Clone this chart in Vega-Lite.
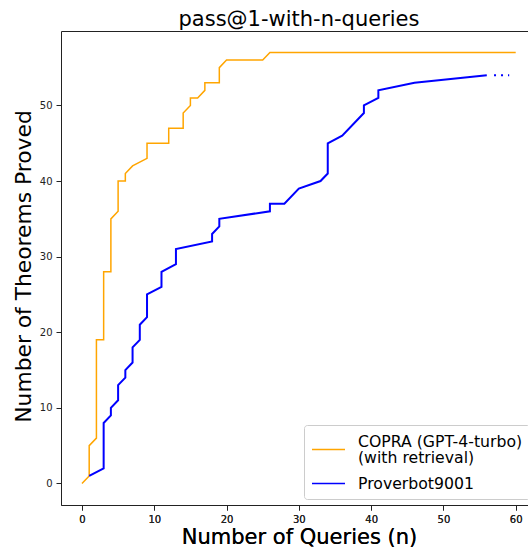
{
  "$schema": "https://vega.github.io/schema/vega-lite/v6.json",
  "width": 467,
  "height": 474,
  "autosize": {"type": "none"},
  "padding": {"left": 61, "top": 31, "right": 0, "bottom": 45},
  "background": "white",
  "title": {"text": "pass@1-with-n-queries", "fontSize": 21, "font": "DejaVu Sans", "fontWeight": "normal", "color": "#000", "anchor": "middle", "frame": "group", "baseline": "alphabetic", "offset": 6, "dx": 4.5, "dy": 22},
  "config": {
    "view": {"stroke": null},
    "axis": {"domainColor": "#222", "tickColor": "#222", "tickSize": 5, "tickWidth": 1, "domainWidth": 1, "labelFontSize": 10, "labelFont": "DejaVu Sans", "labelColor": "#222", "labelPadding": 4, "titleFont": "DejaVu Sans", "titleFontWeight": "normal", "titleColor": "#000", "titleFontSize": 21, "grid": false}
  },
  "datasets": {
    "main": [
      {"series": "COPRA (GPT-4-turbo) (with retrieval)", "i": 0, "n": 0, "v": 0},
      {"series": "COPRA (GPT-4-turbo) (with retrieval)", "i": 1, "n": 1, "v": 1},
      {"series": "COPRA (GPT-4-turbo) (with retrieval)", "i": 2, "n": 1, "v": 5},
      {"series": "COPRA (GPT-4-turbo) (with retrieval)", "i": 3, "n": 2, "v": 6},
      {"series": "COPRA (GPT-4-turbo) (with retrieval)", "i": 4, "n": 2, "v": 19},
      {"series": "COPRA (GPT-4-turbo) (with retrieval)", "i": 5, "n": 3, "v": 19},
      {"series": "COPRA (GPT-4-turbo) (with retrieval)", "i": 6, "n": 3, "v": 28},
      {"series": "COPRA (GPT-4-turbo) (with retrieval)", "i": 7, "n": 4, "v": 28},
      {"series": "COPRA (GPT-4-turbo) (with retrieval)", "i": 8, "n": 4, "v": 35},
      {"series": "COPRA (GPT-4-turbo) (with retrieval)", "i": 9, "n": 5, "v": 36},
      {"series": "COPRA (GPT-4-turbo) (with retrieval)", "i": 10, "n": 5, "v": 40},
      {"series": "COPRA (GPT-4-turbo) (with retrieval)", "i": 11, "n": 6, "v": 40},
      {"series": "COPRA (GPT-4-turbo) (with retrieval)", "i": 12, "n": 6, "v": 41},
      {"series": "COPRA (GPT-4-turbo) (with retrieval)", "i": 13, "n": 7, "v": 42},
      {"series": "COPRA (GPT-4-turbo) (with retrieval)", "i": 14, "n": 9, "v": 43},
      {"series": "COPRA (GPT-4-turbo) (with retrieval)", "i": 15, "n": 9, "v": 45},
      {"series": "COPRA (GPT-4-turbo) (with retrieval)", "i": 16, "n": 12, "v": 45},
      {"series": "COPRA (GPT-4-turbo) (with retrieval)", "i": 17, "n": 12, "v": 47},
      {"series": "COPRA (GPT-4-turbo) (with retrieval)", "i": 18, "n": 14, "v": 47},
      {"series": "COPRA (GPT-4-turbo) (with retrieval)", "i": 19, "n": 14, "v": 49},
      {"series": "COPRA (GPT-4-turbo) (with retrieval)", "i": 20, "n": 15, "v": 50},
      {"series": "COPRA (GPT-4-turbo) (with retrieval)", "i": 21, "n": 15, "v": 51},
      {"series": "COPRA (GPT-4-turbo) (with retrieval)", "i": 22, "n": 16, "v": 51},
      {"series": "COPRA (GPT-4-turbo) (with retrieval)", "i": 23, "n": 17, "v": 52},
      {"series": "COPRA (GPT-4-turbo) (with retrieval)", "i": 24, "n": 17, "v": 53},
      {"series": "COPRA (GPT-4-turbo) (with retrieval)", "i": 25, "n": 19, "v": 53},
      {"series": "COPRA (GPT-4-turbo) (with retrieval)", "i": 26, "n": 19, "v": 55},
      {"series": "COPRA (GPT-4-turbo) (with retrieval)", "i": 27, "n": 20, "v": 56},
      {"series": "COPRA (GPT-4-turbo) (with retrieval)", "i": 28, "n": 25, "v": 56},
      {"series": "COPRA (GPT-4-turbo) (with retrieval)", "i": 29, "n": 26, "v": 57},
      {"series": "COPRA (GPT-4-turbo) (with retrieval)", "i": 30, "n": 60, "v": 57},
      {"series": "Proverbot9001", "i": 0, "n": 1, "v": 1},
      {"series": "Proverbot9001", "i": 1, "n": 3, "v": 2},
      {"series": "Proverbot9001", "i": 2, "n": 3, "v": 8},
      {"series": "Proverbot9001", "i": 3, "n": 4, "v": 9},
      {"series": "Proverbot9001", "i": 4, "n": 4, "v": 10},
      {"series": "Proverbot9001", "i": 5, "n": 5, "v": 11},
      {"series": "Proverbot9001", "i": 6, "n": 5, "v": 13},
      {"series": "Proverbot9001", "i": 7, "n": 6, "v": 14},
      {"series": "Proverbot9001", "i": 8, "n": 6, "v": 15},
      {"series": "Proverbot9001", "i": 9, "n": 7, "v": 16},
      {"series": "Proverbot9001", "i": 10, "n": 7, "v": 18},
      {"series": "Proverbot9001", "i": 11, "n": 8, "v": 19},
      {"series": "Proverbot9001", "i": 12, "n": 8, "v": 21},
      {"series": "Proverbot9001", "i": 13, "n": 9, "v": 22},
      {"series": "Proverbot9001", "i": 14, "n": 9, "v": 25},
      {"series": "Proverbot9001", "i": 15, "n": 11, "v": 26},
      {"series": "Proverbot9001", "i": 16, "n": 11, "v": 28},
      {"series": "Proverbot9001", "i": 17, "n": 13, "v": 29},
      {"series": "Proverbot9001", "i": 18, "n": 13, "v": 31},
      {"series": "Proverbot9001", "i": 19, "n": 18, "v": 32},
      {"series": "Proverbot9001", "i": 20, "n": 18, "v": 33},
      {"series": "Proverbot9001", "i": 21, "n": 19, "v": 34},
      {"series": "Proverbot9001", "i": 22, "n": 19, "v": 35},
      {"series": "Proverbot9001", "i": 23, "n": 26, "v": 36},
      {"series": "Proverbot9001", "i": 24, "n": 26, "v": 37},
      {"series": "Proverbot9001", "i": 25, "n": 28, "v": 37},
      {"series": "Proverbot9001", "i": 26, "n": 30, "v": 39},
      {"series": "Proverbot9001", "i": 27, "n": 33, "v": 40},
      {"series": "Proverbot9001", "i": 28, "n": 34, "v": 41},
      {"series": "Proverbot9001", "i": 29, "n": 34, "v": 45},
      {"series": "Proverbot9001", "i": 30, "n": 36, "v": 46},
      {"series": "Proverbot9001", "i": 31, "n": 39, "v": 49},
      {"series": "Proverbot9001", "i": 32, "n": 39, "v": 50},
      {"series": "Proverbot9001", "i": 33, "n": 41, "v": 51},
      {"series": "Proverbot9001", "i": 34, "n": 41, "v": 52},
      {"series": "Proverbot9001", "i": 35, "n": 46, "v": 53},
      {"series": "Proverbot9001", "i": 36, "n": 56, "v": 54}
    ],
    "dots": [
      {"series": "Proverbot9001", "i": 0, "n": 57, "v": 54},
      {"series": "Proverbot9001", "i": 1, "n": 59.1, "v": 54}
    ]
  },
  "data": {"name": "main"},
  "encoding": {
    "x": {"field": "n", "type": "quantitative", "scale": {"domain": [-2.9, 61.7], "nice": false, "zero": false},
      "axis": {"orient": "bottom", "values": [0, 10, 20, 30, 40, 50, 60], "title": "Number of Queries (n)", "titleX": 238, "titleY": 38.3, "titleBaseline": "alphabetic", "titleAlign": "center"}},
    "y": {"field": "v", "type": "quantitative", "scale": {"domain": [-2.85, 59.85], "nice": false, "zero": false},
      "axis": {"values": [0, 10, 20, 30, 40, 50], "title": "Number of Theorems Proved", "titleFontSize": 21.8, "titleX": -31, "titleY": 235, "titleAngle": -90, "titleBaseline": "alphabetic", "titleAlign": "center"}},
    "color": {"field": "series", "type": "nominal",
      "scale": {"domain": ["COPRA (GPT-4-turbo) (with retrieval)", "Proverbot9001"], "range": ["#FFA500", "#0000FF"]},
      "legend": {"title": null, "orient": "none", "legendX": 243, "legendY": 394, "labelExpr": "datum.value == 'Proverbot9001' ? datum.label : ['COPRA (GPT-4-turbo)', '(with retrieval)']", "labelFontSize": 15.7, "labelFont": "DejaVu Sans", "labelColor": "#000", "labelLimit": 400, "labelOffset": 12, "symbolType": "stroke", "symbolSize": 1089, "symbolStrokeWidth": 1.5, "padding": 7, "rowPadding": 0, "fillColor": "rgba(255,255,255,0.8)", "strokeColor": "#cccccc", "cornerRadius": 3,
        "encode": {"labels": {"update": {"dy": {"signal": "datum.value == 'Proverbot9001' ? 0 : -8"}, "lineHeight": {"value": 16.5}}}}}},
    "order": {"field": "i", "type": "quantitative"}
  },
  "layer": [
    {"transform": [{"filter": "datum.series != 'Proverbot9001'"}], "mark": {"type": "line", "strokeWidth": 1.5}},
    {"transform": [{"filter": "datum.series == 'Proverbot9001'"}], "mark": {"type": "line", "strokeWidth": 2}},
    {"data": {"name": "dots"}, "mark": {"type": "line", "strokeWidth": 2, "strokeDash": [2, 5], "strokeCap": "butt"},
      "encoding": {"x": {"field": "n", "type": "quantitative", "axis": {"orient": "top", "labels": false, "ticks": false, "title": null, "domain": true}}}}
  ]
}
